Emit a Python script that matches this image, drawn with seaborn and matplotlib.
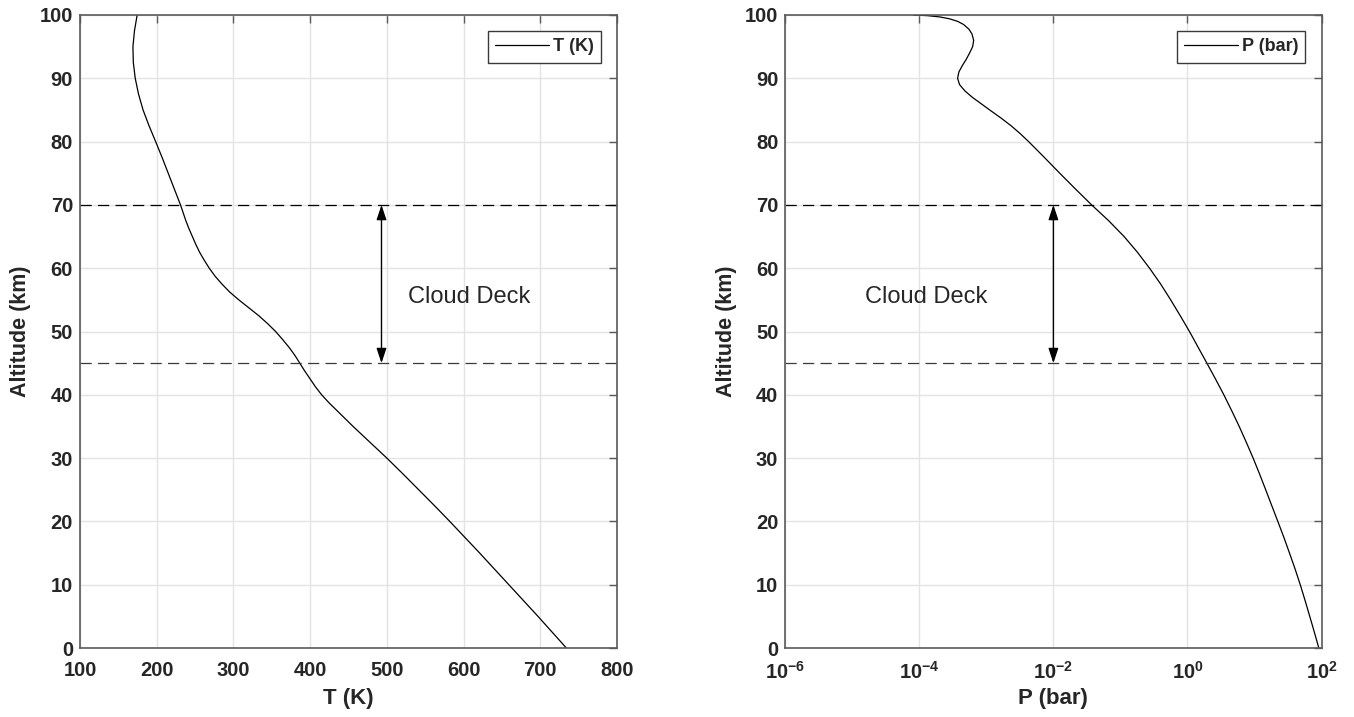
import numpy as np
import pandas as pd
import matplotlib
matplotlib.use("Agg")
import matplotlib.pyplot as plt
import seaborn as sns

# Temperature profile: altitude (km) -> temperature (K)
alt_T = [0, 2.5, 5, 7.5, 10, 12.5, 15, 17.5, 20, 22.5, 25, 27.5, 30,
         31.25, 32.5, 33.75, 35, 36.25, 37.5, 38.75, 40, 41.25, 42.5, 43.75,
         45, 46.25, 47.5, 48.75, 50, 51.25, 52.5, 53.75, 55, 56.25, 57.5,
         58.75, 60, 61.25, 62.5, 63.75, 65, 66.25, 67.5, 68.75, 70, 72.5, 75,
         77.5, 78.75, 80, 81.25, 82.5, 85, 87.5, 90, 92.5, 95, 97.5, 100]
temp_K = [734, 715.5, 697, 678, 659, 640, 621, 601.5, 582, 562, 541.5, 521, 500,
          489, 478, 467, 456, 445.5, 435, 424.5, 415, 407, 400, 393,
          386.5, 380, 372.5, 364, 355, 344.5, 333, 320, 307, 295, 285,
          276, 268.5, 262, 256, 251, 246.5, 242, 238, 234.5, 231, 223, 215,
          207, 202.8, 198.6, 194.3, 190, 182.2, 176.3, 172, 169.5, 169, 171, 174.5]

# Pressure profile: altitude (km) -> pressure (bar)
alt_P = [0, 2.5, 5, 7.5, 10, 12.5, 15, 17.5, 20, 22.5, 25, 27.5, 30, 32.5, 35,
         37.5, 40, 42.5, 45, 47.5, 50, 52.5, 55, 57.5, 60, 62.5, 65, 67.5, 70,
         72.5, 75, 77.5, 80, 81.25, 82.5, 83.75, 85, 86, 87, 88, 89, 90, 91,
         92, 93, 94, 95, 96, 97, 97.75, 98.5, 99, 99.4, 99.7, 99.9, 100]
pres_bar = [91.2, 78.2, 66.8, 56.9, 48.2, 40.3, 33.3, 27.4, 22.3, 18.1, 14.7,
            11.9, 9.55, 7.55, 5.92, 4.57, 3.49, 2.62, 1.95, 1.445, 1.072,
            0.780, 0.562, 0.398, 0.272, 0.180, 0.1135, 0.0668, 0.0372, 0.0214,
            0.01245, 7.33e-3, 4.27e-3, 3.20e-3, 2.34e-3, 1.64e-3, 1.12e-3,
            8.32e-4, 6.17e-4, 4.79e-4, 3.98e-4, 3.72e-4, 3.89e-4, 4.37e-4,
            5.01e-4, 5.62e-4, 6.24e-4, 6.46e-4, 6.10e-4, 5.50e-4, 4.57e-4,
            3.72e-4, 2.82e-4, 2.00e-4, 1.32e-4, 8.13e-5]

# Cloud layer boundaries (km) and annotation anchors
cloud_base, cloud_top = 45, 70
label_text = "Cloud Deck"
arrow_T = 493
arrow_P = 1e-2
text_T = 528
text_P = 10 ** -4.81
text_alt = 55.5

alt_ticks = list(range(0, 101, 10))
T_ticks = list(range(100, 801, 100))
P_ticks = [1e-6, 1e-4, 1e-2, 1e0, 1e2]
P_ticklabels = [r"$\mathbf{10^{-6}}$", r"$\mathbf{10^{-4}}$", r"$\mathbf{10^{-2}}$",
                r"$\mathbf{10^{0}}$", r"$\mathbf{10^{2}}$"]

sns.set_style("white")
plt.rcParams["font.family"] = ["Liberation Sans", "DejaVu Sans"]
plt.rcParams["mathtext.fontset"] = "custom"
plt.rcParams["mathtext.bf"] = "Liberation Sans:bold"
plt.rcParams["mathtext.rm"] = "Liberation Sans"

df_T = pd.DataFrame({"alt": alt_T, "T": temp_K})
df_P = pd.DataFrame({"alt": alt_P, "P": pres_bar})

fig = plt.figure(figsize=(13.54, 7.17), dpi=100)
axL = fig.add_axes([80 / 1354, 1 - 648 / 717, 537 / 1354, 633 / 717])
axR = fig.add_axes([785.3 / 1354, 1 - 648 / 717, 536.2 / 1354, 633 / 717])

sns.lineplot(data=df_T, x="T", y="alt", sort=False, estimator=None, ax=axL,
             color="black", lw=0.9, label="T (K)")
sns.lineplot(data=df_P, x="P", y="alt", sort=False, estimator=None, ax=axR,
             color="black", lw=0.9, label="P (bar)")
axR.set_xscale("log")

spine_col = "#5a5a5a"
for ax in (axL, axR):
    ax.set_ylim(0, 100)
    ax.set_yticks(alt_ticks)
    ax.set_ylabel("Altitude (km)", fontsize=15.5, fontweight="bold", labelpad=6)
    ax.grid(True, color="#e3e3e3", lw=1.0)
    ax.set_axisbelow(True)
    for s in ax.spines.values():
        s.set_visible(True)
        s.set_color(spine_col)
        s.set_linewidth(1.2)
    ax.tick_params(direction="in", length=6, width=1.0, color=spine_col,
                   top=True, right=True, labelsize=14.5, pad=5)
    ax.tick_params(axis="x", pad=9)
    for lab in ax.get_xticklabels() + ax.get_yticklabels():
        lab.set_fontweight("bold")
    ax.axhline(cloud_top, color="black", lw=0.9, ls=(0, (9, 5)), zorder=2)
    ax.axhline(cloud_base, color="#3a3a3a", lw=0.9, ls=(0, (9, 5)), zorder=2)
    leg = ax.legend(loc="upper right", frameon=True, fancybox=False,
                    edgecolor="#3a3a3a", framealpha=1, handlelength=3.0,
                    handletextpad=0.2, borderpad=0.4, borderaxespad=0.9,
                    prop={"weight": "bold", "size": 13})
    leg.get_frame().set_linewidth(1.0)

axL.set_xlim(100, 800)
axL.set_xticks(T_ticks)
axL.set_xticklabels([str(t) for t in T_ticks], fontweight="bold")
axL.set_xlabel("T (K)", fontsize=16, fontweight="bold", labelpad=6)

axR.set_xlim(1e-6, 1e2)
axR.set_xticks(P_ticks)
axR.set_xticklabels(P_ticklabels)
axR.xaxis.set_minor_locator(matplotlib.ticker.NullLocator())
axR.set_xlabel("P (bar)", fontsize=16, fontweight="bold", labelpad=4)

arrow_style = dict(arrowstyle="<|-|>,head_length=0.9,head_width=0.3",
                   color="black", lw=1.0, shrinkA=0, shrinkB=0)
axL.annotate("", xy=(arrow_T, cloud_top), xytext=(arrow_T, cloud_base),
             arrowprops=arrow_style)
axR.annotate("", xy=(arrow_P, cloud_top), xytext=(arrow_P, cloud_base),
             arrowprops=arrow_style)
axL.text(text_T, text_alt, label_text, fontsize=17, va="center", ha="left")
axR.text(text_P, text_alt, label_text, fontsize=17, va="center", ha="left")

fig.savefig("out.png", dpi=100)
